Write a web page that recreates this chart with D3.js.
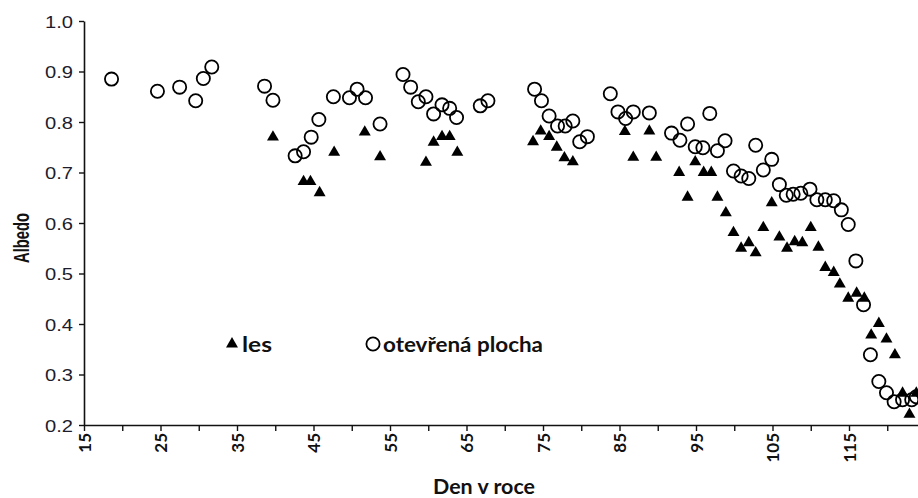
<!DOCTYPE html>
<html>
<head>
<meta charset="utf-8">
<script src="https://cdn.jsdelivr.net/npm/d3@7"></script>
<style>
  html, body { margin: 0; padding: 0; background: #fff; }
  svg { display: block; }
</style>
</head>
<body>
<svg id="chart" width="918" height="498"></svg>
<script>
// ---- data ----
const lesDays = [39.7, 43.7, 44.6, 45.8, 47.7, 51.7, 53.7, 59.7, 60.7, 61.8, 62.8, 63.8,
  73.7, 74.7, 75.8, 76.8, 77.8, 78.9, 85.7, 86.8, 88.9, 89.8, 92.8, 93.9, 94.9, 96.0,
  97.0, 97.8, 98.9, 99.9, 100.9, 101.9, 102.8, 103.8, 104.9, 105.9, 106.9, 107.9, 108.9,
  110.0, 111.0, 111.9, 113.0, 113.8, 114.9, 116.0, 117.0, 117.9, 118.9, 119.9, 121.0,
  122.0, 122.9, 123.8];
const lesAlbedo = [0.770, 0.682, 0.682, 0.660, 0.740, 0.780, 0.731, 0.720, 0.760, 0.771, 0.771, 0.740,
  0.761, 0.782, 0.771, 0.750, 0.729, 0.721, 0.781, 0.730, 0.782, 0.730, 0.700, 0.651, 0.721, 0.700,
  0.700, 0.651, 0.620, 0.581, 0.550, 0.561, 0.541, 0.591, 0.640, 0.572, 0.550, 0.563, 0.561,
  0.591, 0.552, 0.512, 0.502, 0.479, 0.451, 0.461, 0.451, 0.378, 0.401, 0.370, 0.339,
  0.263, 0.221, 0.263];

const openDays = [18.6, 24.6, 27.5, 29.6, 30.6, 31.7, 38.6, 39.7, 42.6, 43.7, 44.7, 45.7,
  47.6, 49.7, 50.7, 51.8, 53.7, 56.7, 57.7, 58.7, 59.7, 60.7, 61.8, 62.8, 63.7, 66.8, 67.8,
  73.9, 74.8, 75.8, 76.9, 77.9, 78.9, 79.8, 80.8, 83.8, 84.8, 85.8, 86.8, 88.9,
  91.8, 92.9, 93.9, 94.9, 95.9, 96.8, 97.8, 98.8, 99.9, 100.9, 101.9, 102.8, 103.8, 104.9,
  105.9, 106.8, 107.7, 108.7, 109.9, 110.8, 111.9, 113.0, 114.0, 114.9, 115.9, 116.9,
  117.8, 118.9, 119.9, 120.9, 122.0, 123.2, 123.8];
const openAlbedo = [0.885, 0.861, 0.869, 0.842, 0.886, 0.909, 0.871, 0.843, 0.733, 0.741, 0.770, 0.805,
  0.850, 0.848, 0.865, 0.848, 0.796, 0.894, 0.869, 0.840, 0.850, 0.816, 0.834, 0.827, 0.809, 0.832, 0.842,
  0.865, 0.842, 0.812, 0.792, 0.792, 0.802, 0.761, 0.771, 0.856, 0.820, 0.807, 0.820, 0.818,
  0.778, 0.764, 0.796, 0.751, 0.749, 0.817, 0.743, 0.763, 0.703, 0.693, 0.688, 0.754, 0.705, 0.726,
  0.676, 0.655, 0.657, 0.659, 0.667, 0.646, 0.646, 0.644, 0.626, 0.597, 0.525, 0.438,
  0.339, 0.286, 0.264, 0.246, 0.250, 0.250, 0.256];

const xTickValues = [15, 20, 25, 30, 35, 40, 45, 50, 55, 60, 65, 70, 75, 80, 85, 90, 95, 100, 105, 110, 115, 120, 125];
const xLabelValues = [15, 25, 35, 45, 55, 65, 75, 85, 95, 105, 115];
const yTickValues = [0.2, 0.3, 0.4, 0.5, 0.6, 0.7, 0.8, 0.9, 1.0];

const yTitle = "Albedo";
const xTitle = "Den v roce";
const legendLes = "les";
const legendOpen = "otevřená plocha";

// ---- layout ----
const svg = d3.select("#chart");
const x = d3.scaleLinear().domain([15, 125]).range([84, 925.5]);
const y = d3.scaleLinear().domain([0.2, 1.0]).range([425, 21]);
const ink = "#111";

// y axis
const gy = svg.append("g").attr("transform", "translate(84,0)")
  .call(d3.axisLeft(y).tickValues(yTickValues).tickSize(5).tickSizeOuter(0).tickFormat(d3.format(".1f")));
gy.select(".domain").attr("stroke", ink).attr("stroke-width", 1.6);
gy.selectAll(".tick line").attr("stroke", ink).attr("stroke-width", 1.4);
gy.selectAll(".tick text")
  .attr("x", -11).attr("dy", "0.36em")
  .attr("fill", "#1c1c2c")
  .style("font-family", "'Liberation Sans', Arial, sans-serif")
  .style("font-size", "17px")
  .attr("textLength", 28).attr("lengthAdjust", "spacingAndGlyphs");

// x axis
const gx = svg.append("g").attr("transform", "translate(0,425)")
  .call(d3.axisBottom(x).tickValues(xTickValues).tickSize(6).tickSizeOuter(0)
    .tickFormat(d => xLabelValues.includes(d) ? String(d) : ""));
gx.select(".domain").attr("stroke", ink).attr("stroke-width", 1.6);
gx.selectAll(".tick line").attr("stroke", ink).attr("stroke-width", 1.4);
gx.selectAll(".tick text")
  .attr("transform", "rotate(-90)")
  .attr("text-anchor", "end")
  .attr("x", -8).attr("y", 0).attr("dy", "0.38em")
  .attr("fill", ink)
  .style("font-family", "Lato, sans-serif")
  .style("font-weight", "700")
  .style("font-size", "17px");

// axis titles
svg.append("text")
  .attr("transform", "translate(21,238) rotate(-90)")
  .attr("text-anchor", "middle").attr("dy", "0.36em")
  .attr("fill", ink)
  .style("font-family", "'Liberation Sans', Arial, sans-serif")
  .style("font-weight", "700").style("font-size", "22px")
  .attr("textLength", 50).attr("lengthAdjust", "spacingAndGlyphs")
  .text(yTitle);

svg.append("text")
  .attr("x", 484).attr("y", 494)
  .attr("text-anchor", "middle")
  .attr("fill", ink)
  .style("font-family", "Lato, sans-serif")
  .style("font-weight", "700").style("font-size", "21px")
  .attr("textLength", 102).attr("lengthAdjust", "spacingAndGlyphs")
  .text(xTitle);

// marks
const tri = d3.symbol().type(d3.symbolTriangle).size(62);

svg.append("g").selectAll("circle")
  .data(openDays.map((d, i) => [d, openAlbedo[i]]))
  .join("circle")
  .attr("cx", d => x(d[0])).attr("cy", d => y(d[1]))
  .attr("r", 6.6)
  .attr("fill", "none").attr("stroke", "#000").attr("stroke-width", 1.8);

svg.append("g").selectAll("path")
  .data(lesDays.map((d, i) => [d, lesAlbedo[i]]))
  .join("path")
  .attr("d", tri)
  .attr("transform", d => `translate(${x(d[0])},${y(d[1])})`)
  .attr("fill", "#000");

// legend
svg.append("path").attr("d", tri).attr("transform", "translate(232,344)").attr("fill", "#000");
svg.append("text").attr("x", 242).attr("y", 352)
  .attr("fill", ink)
  .style("font-family", "Lato, sans-serif").style("font-weight", "700").style("font-size", "21px")
  .attr("textLength", 30).attr("lengthAdjust", "spacingAndGlyphs")
  .text(legendLes);

svg.append("circle").attr("cx", 373).attr("cy", 344).attr("r", 6.6)
  .attr("fill", "none").attr("stroke", "#000").attr("stroke-width", 1.8);
svg.append("text").attr("x", 383).attr("y", 352)
  .attr("fill", ink)
  .style("font-family", "Lato, sans-serif").style("font-weight", "700").style("font-size", "21px")
  .attr("textLength", 160).attr("lengthAdjust", "spacingAndGlyphs")
  .text(legendOpen);
</script>
</body>
</html>
